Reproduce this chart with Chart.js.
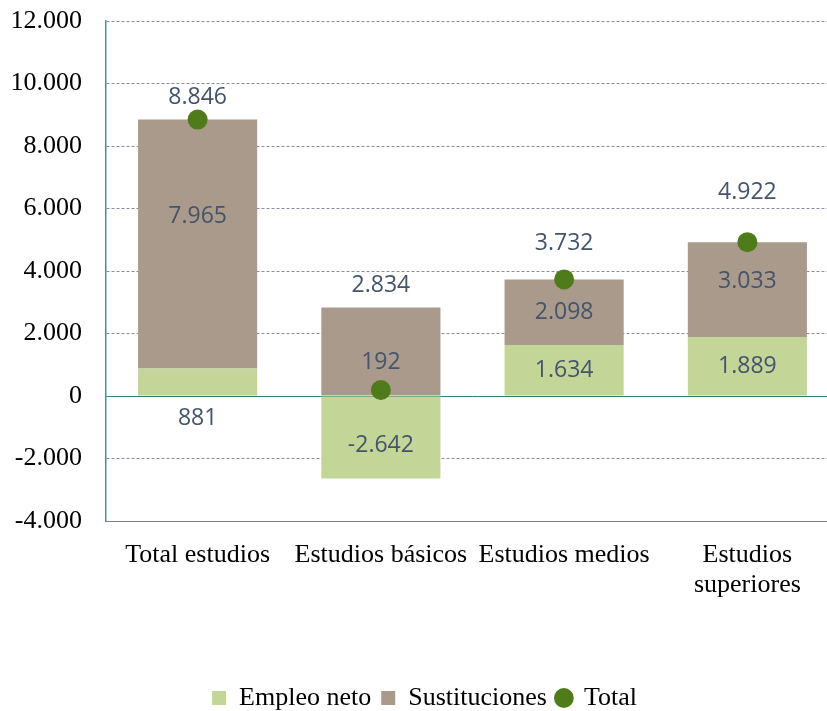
<!DOCTYPE html>
<html>
<head>
<meta charset="utf-8">
<script src="https://cdn.jsdelivr.net/npm/chart.js@4.4.1/dist/chart.umd.min.js"></script>
<style>
  html, body { margin: 0; padding: 0; background: #fff; overflow: hidden; }
  #wrap { width: 849px; height: 721px; }
</style>
</head>
<body>
<div id="wrap"><canvas id="chart" width="849" height="721"></canvas></div>
<script>
// data
const categories = ['Total estudios', 'Estudios básicos', 'Estudios medios', ['Estudios', 'superiores']];
const empleoNeto = [881, -2642, 1634, 1889];
const sustituciones = [7965, 2834, 2098, 3033];
const total = [8846, 192, 3732, 4922];
const yMin = -4000, yMax = 12000, yStep = 2000;

// where each value label sits
const empleoLabelPlace = ['below', 'center', 'center', 'center'];
const empleoLabelNudge = [0, 8, 0, 0];
const sustLabelPlace = ['center', 'above', 'center', 'center'];
const sustLabelNudge = [-28, 0, 0, -8];
const totalLabelLift = [22, 28, 36, 50];

const serif = '"Liberation Serif", "Times New Roman", serif';

function fmt(v) {
    const s = String(Math.abs(v)).replace(/\B(?=(\d{3})+(?!\d))/g, '.');
    return v < 0 ? '-' + s : s;
}

const valueLabels = {
    id: 'valueLabels',
    afterDatasetsDraw(chart) {
        const ctx = chart.ctx;
        ctx.save();
        ctx.font = '23px "Open Sans", "Noto Sans", sans-serif';
        ctx.fillStyle = '#44546a';
        ctx.textAlign = 'center';
        ctx.textBaseline = 'middle';
        chart.data.datasets.forEach((ds, di) => {
            const meta = chart.getDatasetMeta(di);
            meta.data.forEach((el, i) => {
                const v = ds.data[i];
                let y;
                if (ds.type === 'line') {
                    y = el.y - totalLabelLift[i];
                } else {
                    const place = ds.labelPlace[i];
                    if (place === 'below') y = el.base + 23;
                    else if (place === 'above') y = el.y - 22;
                    else y = (el.y + el.base) / 2;
                    y += ds.labelNudge[i];
                }
                ctx.fillText(fmt(v), el.x, y);
            });
        });
        ctx.restore();
    }
};

const ctx = document.getElementById('chart').getContext('2d');
new Chart(ctx, {
    type: 'bar',
    data: {
        labels: categories,
        datasets: [
            {
                label: 'Empleo neto',
                data: empleoNeto,
                backgroundColor: '#c4d598',
                stack: 'bars',
                order: 1,
                pointStyle: 'rect',
                labelPlace: empleoLabelPlace,
                labelNudge: empleoLabelNudge,
                barPercentage: 0.65,
                categoryPercentage: 1
            },
            {
                label: 'Sustituciones',
                data: sustituciones,
                backgroundColor: '#aa9a8b',
                stack: 'bars',
                order: 1,
                pointStyle: 'rect',
                labelPlace: sustLabelPlace,
                labelNudge: sustLabelNudge,
                barPercentage: 0.65,
                categoryPercentage: 1
            },
            {
                type: 'line',
                label: 'Total',
                data: total,
                stack: 'total',
                order: 0,
                showLine: false,
                pointStyle: 'circle',
                pointRadius: 10,
                pointHoverRadius: 10,
                backgroundColor: '#507b1a',
                borderColor: '#507b1a',
                borderWidth: 0
            }
        ]
    },
    options: {
        responsive: false,
        animation: false,
        layout: { padding: { top: 21, right: 0, left: 0, bottom: 0 } },
        plugins: {
            tooltip: { enabled: false },
            legend: {
                position: 'bottom',
                labels: {
                    usePointStyle: true,
                    boxWidth: 14,
                    boxHeight: 14,
                    padding: 10,
                    color: '#000',
                    font: { family: serif, size: 26 },
                    sort: (a, b) => a.datasetIndex - b.datasetIndex
                }
            }
        },
        scales: {
            x: {
                stacked: true,
                grid: { display: false },
                border: { display: true, color: '#808080', width: 1 },
                ticks: {
                    color: '#000',
                    padding: 11,
                    maxRotation: 0,
                    autoSkip: false,
                    font: { family: serif, size: 26, lineHeight: 1.15 }
                },
                afterFit(scale) { scale.height = 154; }
            },
            y: {
                stacked: true,
                min: yMin,
                max: yMax,
                grid: {
                    drawTicks: false,
                    color: (c) => c.tick && c.tick.value === 0 ? '#2e8080' : '#8a8ea3',
                    lineWidth: 1
                },
                border: {
                    display: true,
                    color: '#4a9090',
                    width: 1.5,
                    dash: (c) => c.tick && c.tick.value === 0 ? [] : [3, 2]
                },
                ticks: {
                    stepSize: yStep,
                    color: '#000',
                    padding: 24,
                    font: { family: serif, size: 26 },
                    callback: (v) => fmt(v)
                },
                afterFit(scale) {
                    scale.width = 106;
                    scale.paddingTop = 0;
                    scale.paddingBottom = 0;
                }
            }
        }
    },
    plugins: [valueLabels]
});
</script>
</body>
</html>
